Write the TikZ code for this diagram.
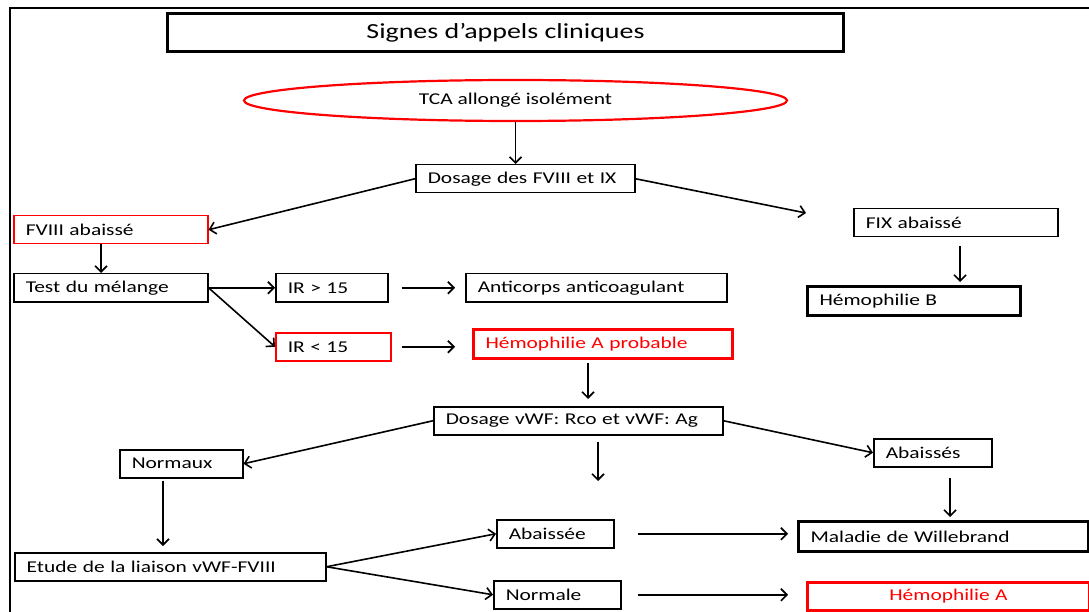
\documentclass[tikz,border=0pt]{standalone}
\usepackage{fontspec}
\setmainfont{Carlito}[FakeStretch=1.3]
\usetikzlibrary{arrows.meta,shapes.geometric}
\definecolor{rd}{RGB}{255,0,0}
\begin{document}
\begin{tikzpicture}[x=1pt,y=-1pt,
  box/.style={draw=black, line width=1.5pt, anchor=north west, minimum height=28pt,
    inner xsep=12pt, inner ysep=1pt, align=left, font=\fontsize{16.5}{19}\selectfont},
  redbox/.style={box, draw=rd},
  thickbox/.style={box, line width=3pt},
  thickred/.style={thickbox, draw=rd, text=rd},
  arr/.style={-{Straight Barb[length=6pt,width=12pt,line width=1.6pt]}, line width=1.6pt},
  frame/.style={line width=2.4pt},
]
\useasboundingbox (0,0) rectangle (1089,612);
\coordinate (f0) at (10,612);
\coordinate (f1) at (10,8);
\coordinate (f2) at (1089,8);
\draw[frame] (f0) -- (f1) -- (f2);

\node[thickbox, align=center, minimum width=676pt, minimum height=38pt, font=\fontsize{21.5}{24}\selectfont] (title) at (166,12) {Signes d’appels cliniques};
\node[ellipse, draw=rd, line width=2.2pt, minimum width=543pt, minimum height=41pt, inner sep=0pt, font=\fontsize{16.5}{19}\selectfont] (tca) at (515.5,100.5) {TCA allongé isolément};

\node[box, text width=195pt, minimum height=28pt] (dos) at (415,164) {Dosage des FVIII et IX};
\node[redbox, text width=170pt] (f8) at (13,215) {FVIII abaissé};
\node[box, text width=170pt] (test) at (13,273) {Test du mélange};
\node[box, text width=88pt] (ir1) at (275,273) {IR > 15};
\node[box, text width=237pt] (anti) at (465,273) {\mbox{Anticorps anticoagulant}};
\node[redbox, text width=91pt] (ir2) at (275,332) {IR < 15};
\node[thickred, text width=235pt, minimum height=29pt] (hap) at (472,328) {Hémophilie A probable};
\node[box, text width=180pt] (fix) at (853,208) {FIX abaissé};
\node[thickbox, text width=189pt, minimum height=29pt] (hb) at (806,285) {Hémophilie B};
\node[box, text width=265pt] (vwf) at (433,406) {\mbox{Dosage vWF: Rco et vWF: Ag}};
\node[box, text width=99pt] (norm) at (119,449) {Normaux};
\node[box, text width=94pt] (abs) at (873,438) {Abaissés};
\node[box, text width=287pt] (etu) at (14,552) {\mbox{Etude de la liaison vWF-FVIII}};
\node[box, text width=93pt] (abe) at (496,519) {Abaissée};
\node[box, text width=103pt] (nle) at (493,580) {Normale};
\node[thickbox, text width=266pt, minimum height=30pt] (mw) at (797,520) {Maladie de Willebrand};
\node[thickred, align=center, text width=258pt] (ha) at (806,581) {Hémophilie A};

% connectors
\draw[arr] (tca.south) -- (tca.south |- dos.north);
\draw[arr] (dos.west) -- (f8.east);
\coordinate (fixp) at (806,213);
\draw[arr] (dos.east) -- (fixp);
\coordinate (c1) at (101,243);
\draw[arr] (c1 |- f8.south) -- (c1 |- test.north);
\draw[arr] (test.east) -- (ir1.west);
\draw[arr] (test.east) -- (ir2.west);
\draw[arr, shorten <=13pt, shorten >=10pt] (ir1.east) -- (ir1.east -| anti.west);
\draw[arr, shorten <=10pt, shorten >=17pt] (ir2.east) -- (ir2.east -| hap.west);
\coordinate (c2) at (588,360);
\draw[arr, shorten <=3pt, shorten >=7pt] (c2 |- hap.south) -- (c2 |- vwf.north);
\coordinate (c3) at (960,245);
\draw[arr, shorten <=9pt, shorten >=3pt] (c3 |- fix.south) -- (c3 |- hb.north);
\draw[arr] (vwf.west) -- (norm.east);
\coordinate (c4) at (598,481);
\draw[arr, shorten <=6pt] (c4 |- vwf.south) -- (c4);
\draw[arr] (vwf.east) -- (abs.west);
\coordinate (c5) at (950,477);
\draw[arr, shorten <=10pt, shorten >=3pt] (c5 |- abs.south) -- (c5 |- mw.north);
\coordinate (c6) at (163,480);
\draw[arr, shorten <=2pt, shorten >=6pt] (c6 |- norm.south) -- (c6 |- etu.north);
\draw[arr] (etu.east) -- (abe.west);
\draw[arr] (etu.east) -- (nle.west);
\draw[arr, shorten <=23pt, shorten >=9pt] (abe.east) -- (abe.east -| mw.west);
\draw[arr, shorten <=16pt, shorten >=18pt] (nle.east) -- (nle.east -| ha.west);
\end{tikzpicture}
\end{document}
